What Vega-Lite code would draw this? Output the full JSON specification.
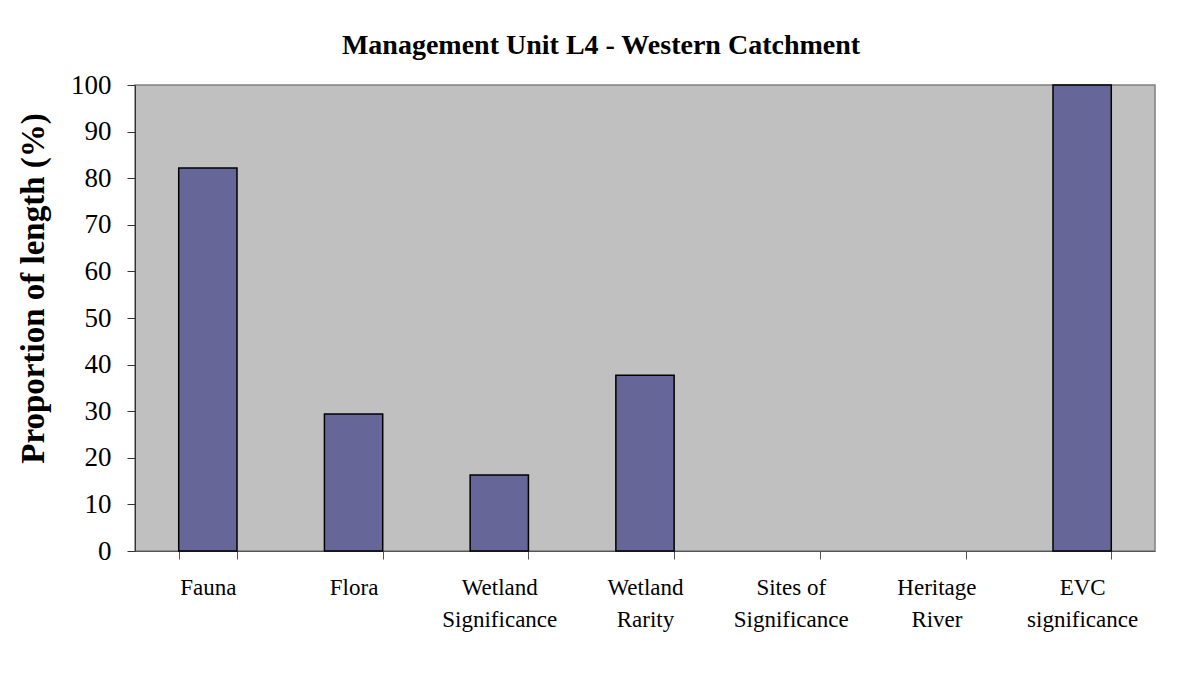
{
  "$schema": "https://vega.github.io/schema/vega-lite/v6.json",
  "width": 1020,
  "height": 466,
  "autosize": {"type": "none"},
  "padding": {"left": 135, "top": 85, "right": 35, "bottom": 124},
  "background": "white",
  "title": {
    "text": "Management Unit L4 - Western Catchment",
    "font": "Liberation Serif",
    "fontSize": 28,
    "fontWeight": "bold",
    "color": "black",
    "anchor": "middle",
    "frame": "group",
    "baseline": "alphabetic",
    "offset": 30,
    "dx": -44,
    "dy": 41
  },
  "data": {
    "values": [
      {"category": "Fauna", "value": 82.2},
      {"category": "Flora", "value": 29.4},
      {"category": "Wetland Significance", "value": 16.3},
      {"category": "Wetland Rarity", "value": 37.7},
      {"category": "Sites of Significance", "value": 0},
      {"category": "Heritage River", "value": 0},
      {"category": "EVC significance", "value": 100}
    ]
  },
  "mark": {"type": "bar", "fill": "#666699", "stroke": "black", "strokeWidth": 1.5},
  "encoding": {
    "x": {
      "field": "category",
      "type": "nominal",
      "sort": null,
      "scale": {"paddingInner": 0.6, "paddingOuter": 0.3},
      "axis": {
        "title": null,
        "labelAngle": 0,
        "labelFont": "Liberation Serif",
        "labelFontSize": 23,
        "labelColor": "black",
        "labelLineHeight": 32,
        "labelPadding": 17,
        "labelExpr": "!isValid(datum.value) ? '' : datum.value == 'Sites of Significance' ? ['Sites of', 'Significance'] : datum.value == 'Wetland Significance' ? ['Wetland', 'Significance'] : datum.value == 'Wetland Rarity' ? ['Wetland', 'Rarity'] : datum.value == 'Heritage River' ? ['Heritage', 'River'] : datum.value == 'EVC significance' ? ['EVC', 'significance'] : datum.value",
        "tickBand": "extent",
        "tickSize": 8,
        "tickColor": "#555555",
        "domainColor": "#555555",
        "grid": false
      }
    },
    "y": {
      "field": "value",
      "type": "quantitative",
      "scale": {"domain": [0, 100], "nice": false},
      "axis": {
        "title": "Proportion of length (%)",
        "titleFont": "Liberation Serif",
        "titleFontSize": 33,
        "titleFontWeight": "bold",
        "titleColor": "black",
        "titleY": 203,
        "titlePadding": 20,
        "values": [0, 10, 20, 30, 40, 50, 60, 70, 80, 90, 100],
        "labelFont": "Liberation Serif",
        "labelFontSize": 27,
        "labelColor": "black",
        "labelPadding": 16,
        "tickSize": 8,
        "tickColor": "#333333",
        "domainColor": "#333333",
        "grid": false
      }
    },
    "strokeOpacity": {"condition": {"test": "datum.value == 0", "value": 0}, "value": 1}
  },
  "config": {
    "view": {"fill": "#c0c0c0", "stroke": "#808080", "strokeWidth": 1.5}
  }
}
